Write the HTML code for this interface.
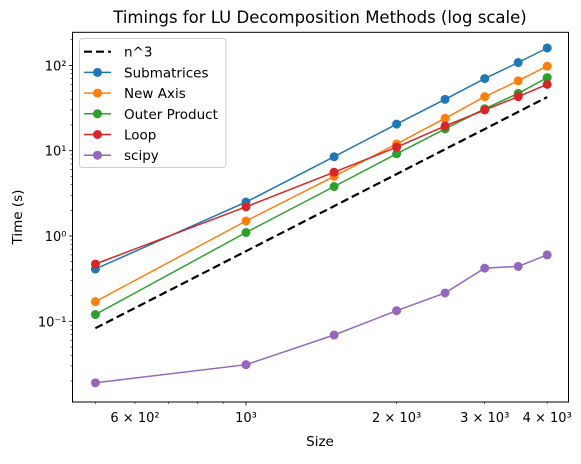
<!DOCTYPE html>
<html><head><meta charset="utf-8"><style>
body{margin:0;background:#fff;}
svg text{font-family:"DejaVu Sans","Liberation Sans",sans-serif;fill:#000;}
</style></head><body>
<svg id="chart" width="581" height="459" viewBox="0 0 581 459" xmlns="http://www.w3.org/2000/svg">
<rect width="581" height="459" fill="#fff"/>
<text x="320" y="23" text-anchor="middle" font-size="16.5">Timings for LU Decomposition Methods (log scale)</text>
<text x="320" y="446" text-anchor="middle" font-size="13.5">Size</text>
<text transform="translate(22,217) rotate(-90)" text-anchor="middle" font-size="13.5">Time (s)</text>
<g id="plot"></g>
</svg>
<script>
const sizes=[500,1000,1500,2000,2500,3000,3500,4000];
const cubic=[0.083,0.664,2.24,5.31,10.4,17.9,28.5,42.5];
const submatrices=[0.41,2.5,8.5,20.5,40,70,108,160];
const newAxis=[0.17,1.5,5.0,12,24,43,66,98];
const outerProduct=[0.12,1.1,3.8,9.2,18,31,47,72];
const loop=[0.47,2.2,5.6,11,19.5,30,43,60];
const scipy=[0.019,0.031,0.069,0.133,0.215,0.42,0.44,0.60];
const seriesNames=["Submatrices","New Axis","Outer Product","Loop","scipy"];
const xMajorTicks=[600,1000,2000,3000,4000];
const xMajorLabels=["6 × 10²","10³","2 × 10³","3 × 10³","4 × 10³"];
const yMajorTicks=[0.1,1,10,100];
const yMajorLabels=["10⁻¹","10⁰","10¹","10²"];

const L=72.5,R=568.5,T=32.3,B=402;
const X=v=>246+500.3*Math.log10(v/1000);
const Y=v=>236-85.3*Math.log10(v);
const NS="http://www.w3.org/2000/svg";
const g=document.getElementById('plot');
function mk(tag,attrs,parent){const e=document.createElementNS(NS,tag);for(const k in attrs)e.setAttribute(k,attrs[k]);(parent||g).appendChild(e);return e;}

// ticks
const xMinor=[500,600,700,800,900,2000,3000,4000];
xMinor.forEach(v=>{const l=mk('line',{x1:X(v),x2:X(v),y1:B,y2:B+2,stroke:'#000','stroke-width':0.6});

});
[1000].forEach(v=>{const l=mk('line',{x1:X(v),x2:X(v),y1:B,y2:B+3.5,stroke:'#000','stroke-width':0.8});

});
xMajorTicks.forEach((v,i)=>{const t=mk('text',{x:X(v),y:B+20,'text-anchor':'middle','font-size':13});t.textContent=xMajorLabels[i];

});
for(let d=-2;d<=2;d++){for(let m=1;m<=9;m++){const v=m*Math.pow(10,d);const y=Y(v);if(y<T||y>B)continue;
const major=m===1;const l=mk('line',{x1:L,x2:L-(major?3.5:2),y1:y,y2:y,stroke:'#000','stroke-width':major?0.8:0.6});

}}
yMajorTicks.forEach((v,i)=>{const t=mk('text',{x:L-6,y:Y(v)+5,'text-anchor':'end','font-size':13});t.textContent=yMajorLabels[i];

});

// series
const pts=a=>a.map((v,i)=>X(sizes[i]).toFixed(1)+','+Y(v).toFixed(1)).join(' ');
const cl=mk('polyline',{points:pts(cubic),fill:'none',stroke:'#000','stroke-width':2.2,'stroke-dasharray':'8,4'});


const data=[submatrices,newAxis,outerProduct,loop,scipy];
const colors=['#1f77b4','#ff7f0e','#2ca02c','#d62728','#9467bd'];
data.forEach((arr,s)=>{
 const sg=mk('g',{});
 
 
 mk('polyline',{points:pts(arr),fill:'none',stroke:colors[s],'stroke-width':1.5},sg);
 arr.forEach((v,i)=>{const c=mk('circle',{cx:X(sizes[i]),cy:Y(v),r:4.5,fill:colors[s]},sg);
 
 });
});

// frame
const fr=mk('rect',{x:L,y:T,width:R-L,height:B-T,fill:'none',stroke:'#000','stroke-width':1});



// legend
const lg=mk('g',{});


mk('rect',{x:79.5,y:38.5,width:146.5,height:129,rx:3,fill:'#fff','fill-opacity':0.8,stroke:'#ccc','stroke-width':1},lg);
const labels=['n^3'].concat(seriesNames);
labels.forEach((lab,i)=>{
 const y=51.7+20.7*i;
 const e=mk('g',{},lg);
 
 
 if(i===0){mk('line',{x1:84,x2:111,y1:y,y2:y,stroke:'#000','stroke-width':2.2,'stroke-dasharray':'8,4'},e);}
 else{mk('line',{x1:84,x2:111,y1:y,y2:y,stroke:colors[i-1],'stroke-width':1.5},e);mk('circle',{cx:97.5,cy:y,r:4.5,fill:colors[i-1]},e);}
 const t=mk('text',{x:124,y:y+5,'font-size':13.5},e);t.textContent=lab;
});
</script>
</body></html>
